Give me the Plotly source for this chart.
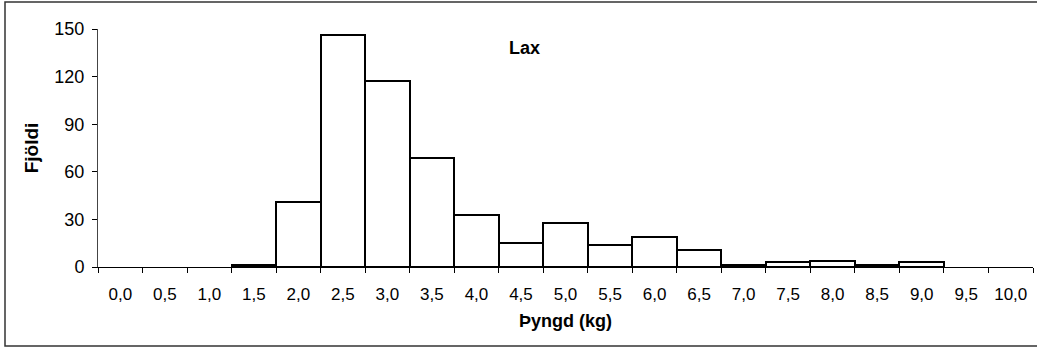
import plotly.graph_objects as go

categories = ["0,0", "0,5", "1,0", "1,5", "2,0", "2,5", "3,0", "3,5", "4,0", "4,5",
              "5,0", "5,5", "6,0", "6,5", "7,0", "7,5", "8,0", "8,5", "9,0", "9,5", "10,0"]
counts = [0, 0, 0, 1, 41, 146, 117, 69, 33, 15, 28, 14, 19, 11, 1, 3, 4, 1, 3, 0, 0]
y_ticks = [0, 30, 60, 90, 120, 150]

FONT = "Liberation Sans, Arial, sans-serif"

line_widths = [0 if v == 0 else 2 for v in counts]

fig = go.Figure(go.Bar(
    x=categories, y=counts, width=1,
    marker=dict(color="white", line=dict(color="black", width=line_widths)),
    showlegend=False, hoverinfo="skip",
))

W, H = 1037, 349
L, R, T, B = 98, 4, 29, 82
pw, ph = W - L - R, H - T - B

fig.update_layout(
    width=W, height=H,
    margin=dict(l=L, r=R, t=T, b=B),
    paper_bgcolor="white", plot_bgcolor="white",
    bargap=0,
    font=dict(family=FONT, size=17, color="black"),
    xaxis=dict(
        type="category", tickson="boundaries", ticks="outside", ticklen=5,
        tickcolor="black", showline=True, linecolor="black", linewidth=1,
        showgrid=False, tickfont=dict(size=17), ticklabelstandoff=12,
        title=dict(text="<b>Þyngd (kg)</b>", font=dict(size=18), standoff=10),
    ),
    yaxis=dict(
        range=[0, 150], tickvals=y_ticks, ticks="outside", ticklen=5,
        tickcolor="black", showline=True, linecolor="#444", linewidth=1,
        showgrid=False, zeroline=False, tickfont=dict(size=18), ticklabelstandoff=4,
        title=dict(text="<b>Fjöldi</b>", font=dict(size=19), standoff=10),
    ),
    annotations=[dict(text="<b>Lax</b>", xref="paper", yref="paper",
                      x=(524 - L) / pw, y=(H - B - 36) / ph, showarrow=False,
                      font=dict(size=18))],
    shapes=[dict(type="rect", xref="paper", yref="paper",
                 x0=(5 - L) / pw, x1=(W + 5 - L) / pw,
                 y0=(H - B - 346) / ph, y1=(H - B - 2) / ph,
                 line=dict(color="#333", width=1.5), fillcolor="rgba(0,0,0,0)",
                 layer="below")],
)

fig.write_html("out.html", config={"displayModeBar": False},
               post_script="document.body.style.margin='0px';")
